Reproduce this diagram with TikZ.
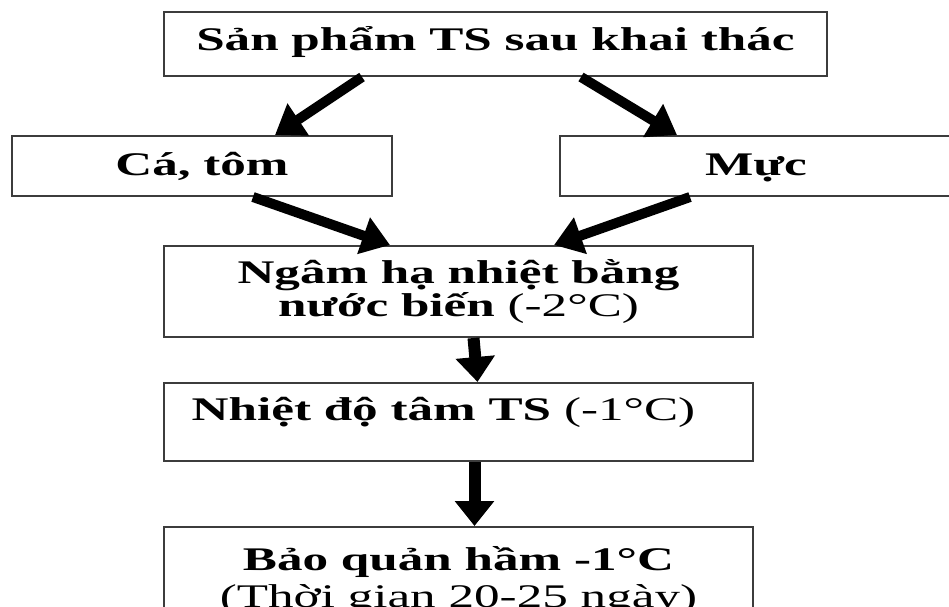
\documentclass[tikz,border=0pt]{standalone}
\usepackage{fontspec}
\setmainfont{Liberation Serif}[FakeStretch=1.55]
\usetikzlibrary{arrows.meta}
\definecolor{color_border}{RGB}{60, 60, 60}

\begin{document}
\begin{tikzpicture}[
    x=1pt, y=-1pt,
    every node/.style={font=\fontsize{33}{33}\selectfont\bfseries},
    flowbox/.style={draw=color_border,line width=2pt,inner sep=0pt,align=center},
    thickarrow/.style={-{Triangle[length=28pt,width=37pt]},line width=10pt},
    downarrow/.style={-{Triangle[length=25pt,width=38pt]},line width=12pt}
]
    % canvas in pixels, y grows downward
    \useasboundingbox (0,0) rectangle (949,606);
    \clip (0,0) rectangle (949,606);

    \def\boxw{589pt}

    \node[flowbox,minimum width=663pt,minimum height=64pt,text height=38pt,text depth=26pt]
        (catch) at (495.5,44) {Sản phẩm TS sau khai thác};
    \node[flowbox,minimum width=380pt,minimum height=60pt,text height=39pt,text depth=21pt]
        (fish) at (202,166) {Cá, tôm};
    \node[flowbox,minimum width=392pt,minimum height=60pt,text height=39pt,text depth=21pt]
        (squid) at (756,166) {Mực};
    \node[flowbox,minimum width=\boxw,minimum height=91pt]
        (chill) at (458.5,291.5) {Ngâm hạ nhiệt bằng\\nước biến {\mdseries(-2°C)}};
    \node[flowbox,minimum width=\boxw,minimum height=78pt,text height=37pt,text depth=41pt]
        (core) at (458.5,422) {Nhiệt độ tâm TS {\mdseries(-1°C)}\hspace*{30pt}};
    \node[flowbox,minimum width=\boxw,minimum height=108pt,font=\fontsize{33}{37}\selectfont\bfseries]
        (store) at (458.5,581) {Bảo quản hầm -1°C\\{\mdseries(Thời gian 20-25 ngày)}};

    % split by kind of catch
    \draw[thickarrow] ([xshift=-133.5pt]catch.south) -- ([xshift=73pt]fish.north);
    \draw[thickarrow] ([xshift=85.5pt]catch.south) -- ([xshift=-79pt]squid.north);

    % both go to chilling
    \draw[thickarrow] ([xshift=51pt]fish.south) -- ([xshift=-68.5pt]chill.north);
    \draw[thickarrow] ([xshift=-66pt]squid.south) -- ([xshift=95.5pt]chill.north);

    \draw[downarrow] ([xshift=15pt]chill.south) -- ([xshift=19pt]core.north);
    \draw[downarrow] ([xshift=16pt]core.south) -- ([xshift=16pt]store.north);

\end{tikzpicture}
\end{document}
